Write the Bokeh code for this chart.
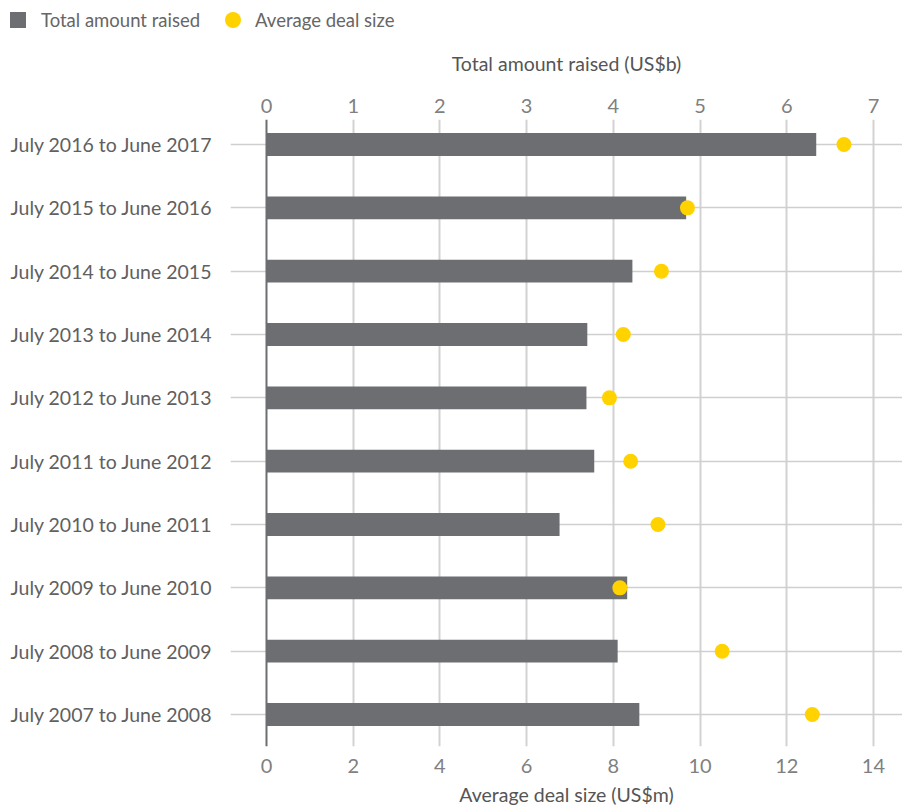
from bokeh.plotting import figure
from bokeh.layouts import column
from bokeh.models import Range1d, LinearAxis, FixedTicker, Span, Div
from bokeh.embed import file_html
from bokeh.resources import INLINE

periods = [
    "July 2016 to June 2017",
    "July 2015 to June 2016",
    "July 2014 to June 2015",
    "July 2013 to June 2014",
    "July 2012 to June 2013",
    "July 2011 to June 2012",
    "July 2010 to June 2011",
    "July 2009 to June 2010",
    "July 2008 to June 2009",
    "July 2007 to June 2008",
]
total_raised = [6.34, 4.84, 4.22, 3.70, 3.69, 3.78, 3.38, 4.16, 4.05, 4.30]   # US$b
avg_deal_size = [13.32, 9.71, 9.11, 8.23, 7.91, 8.40, 9.03, 8.15, 10.51, 12.59]  # US$m
total_ticks = [0, 1, 2, 3, 4, 5, 6, 7]
deal_ticks = [0, 2, 4, 6, 8, 10, 12, 14]
series_names = ["Total amount raised", "Average deal size"]

FONT = "Lato"
BAR = "#6d6e71"
DOT = "#ffd200"

n = len(periods)
ypos = [n - 1 - i for i in range(n)]

LEG_H = 40

# ---------- legend strip (HTML text) ----------
legend_html = (
    f'<div style="display:flex;align-items:center;height:{LEG_H}px;padding-left:10px;'
    f'font-family:{FONT};font-size:18.5px;color:#666666;white-space:nowrap;">'
    f'<span style="display:inline-block;width:16px;height:16px;background:{BAR};"></span>'
    f'<span style="margin-left:15px;">{series_names[0]}</span>'
    f'<span style="display:inline-block;width:16px;height:16px;border-radius:50%;'
    f'background:{DOT};margin-left:25px;"></span>'
    f'<span style="margin-left:14px;">{series_names[1]}</span>'
    '</div>'
)
legend_div = Div(text=legend_html, width=902, height=LEG_H, margin=0)

# ---------- main chart ----------
x0, x1 = -0.415, 7.335
p = figure(
    width=902, height=812 - LEG_H,
    x_range=Range1d(x0, x1), y_range=Range1d(-0.505, 9.395),
    x_axis_location="above",
    output_backend="svg", toolbar_location=None,
    min_border_left=230, min_border_right=0,
    min_border_top=119 - LEG_H, min_border_bottom=66,
    margin=0,
)
p.outline_line_color = None
p.extra_x_ranges = {"deal": Range1d(x0 * 2, x1 * 2)}

p.xgrid.ticker = FixedTicker(ticks=total_ticks[1:])
p.xgrid.grid_line_color = "#d2d2d2"
p.xgrid.grid_line_width = 2
p.ygrid.ticker = FixedTicker(ticks=ypos)
p.ygrid.grid_line_color = "#cfcfcf"
p.ygrid.grid_line_width = 1.5

bars = p.hbar(y=ypos, left=0, right=total_raised, height=0.36,
              fill_color=BAR, line_color=None)
p.add_layout(Span(location=0, dimension="height", line_color="#6d6e71", line_width=2))
dots = p.scatter(x=avg_deal_size, y=ypos, x_range_name="deal", size=15,
                 fill_color=DOT, line_color=None)

top = p.xaxis[0]
top.ticker = FixedTicker(ticks=total_ticks)
top.axis_label = "Total amount raised (US$b)"
top.axis_label_text_font = FONT
top.axis_label_text_font_style = "normal"
top.axis_label_text_font_size = "19.5px"
top.axis_label_text_color = "#555555"
top.axis_label_standoff = 21
top.major_label_text_font = FONT
top.major_label_text_font_size = "20px"
top.major_label_text_color = "#808080"
top.major_label_standoff = 7
top.axis_line_color = None
top.major_tick_line_color = None
top.minor_tick_line_color = None
top.major_tick_out = 0
top.major_tick_in = 0

bottom = LinearAxis(x_range_name="deal", ticker=FixedTicker(ticks=deal_ticks))
bottom.axis_label = "Average deal size (US$m)"
bottom.axis_label_text_font = FONT
bottom.axis_label_text_font_style = "normal"
bottom.axis_label_text_font_size = "19.5px"
bottom.axis_label_text_color = "#555555"
bottom.axis_label_standoff = 7
bottom.major_label_text_font = FONT
bottom.major_label_text_font_size = "20px"
bottom.major_label_text_color = "#808080"
bottom.major_label_standoff = 12
bottom.axis_line_color = None
bottom.major_tick_line_color = None
bottom.minor_tick_line_color = None
bottom.major_tick_out = 0
bottom.major_tick_in = 0
p.add_layout(bottom, "below")

ya = p.yaxis[0]
ya.ticker = FixedTicker(ticks=ypos)
ya.major_label_overrides = {y: lab for y, lab in zip(ypos, periods)}
ya.major_label_text_font = FONT
ya.major_label_text_font_size = "19.5px"
ya.major_label_text_color = "#606060"
ya.major_label_standoff = 18
ya.axis_line_color = None
ya.major_tick_line_color = None
ya.minor_tick_line_color = None
ya.major_tick_out = 0
ya.major_tick_in = 0

layout = column(legend_div, p, spacing=0)
open("out.html", "w").write(file_html(layout, INLINE))
